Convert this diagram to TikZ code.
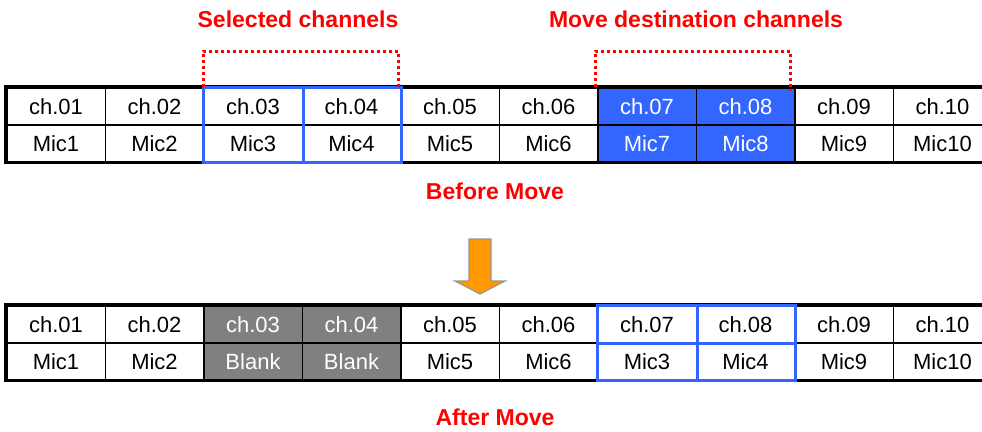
\documentclass[tikz,border=0pt]{standalone}
\usepackage{fontspec}
\setmainfont{Liberation Sans}
\definecolor{selblue}{RGB}{51,102,255}
\definecolor{redlbl}{RGB}{255,0,0}
\definecolor{grayfill}{RGB}{128,128,128}
\definecolor{arroworange}{RGB}{255,153,0}
\definecolor{arrowedge}{RGB}{150,150,150}
\begin{document}
\begin{tikzpicture}[x=1pt,y=-1pt,
 cell/.style={draw=black, line width=1.5pt, minimum width=98.5pt, minimum height=37pt, inner sep=0pt, font=\fontsize{22}{26}\selectfont, anchor=north west},
 bluecell/.style={cell, fill=selblue, text=white},
 graycell/.style={cell, fill=grayfill, text=white},
 lbl/.style={text=redlbl, font=\fontsize{23}{27}\selectfont\bfseries, inner sep=0pt},
 bracket/.style={draw=redlbl, line width=3pt, dash pattern=on 3pt off 3pt},
 border/.style={draw=black, line width=3.5pt},
 selbox/.style={draw=selblue, line width=3pt}]
\clip (0,0) rectangle (982,431);
\fill[white] (0,0) rectangle (982,431);
% ---- top table (before move)
\foreach \i/\c in {1/01,2/02,3/03,4/04,5/05,6/06,9/09,10/10}
  \node[cell] (tc\i) at ({6+98.5*(\i-1)},87) {ch.\c};
\foreach \i/\c in {7/07,8/08}
  \node[bluecell] (tc\i) at ({6+98.5*(\i-1)},87) {ch.\c};
\foreach \i in {1,2,3,4,5,6,9,10}
  \node[cell] (tm\i) at ({6+98.5*(\i-1)},124) {Mic\i};
\foreach \i in {7,8}
  \node[bluecell] (tm\i) at ({6+98.5*(\i-1)},124) {Mic\i};
\draw[border] (tc10.north east) -- (tc1.north west) -- (tm1.south west) -- (tm10.south east);
\draw[selbox] (tc3.north west) rectangle (tm4.south east);
\draw[selbox] (tc3.north east) -- (tm3.south east);
% brackets
\draw[bracket] (tc3.north west) -- ++(0,-36) -| ([xshift=-3pt]tc4.north east);
\draw[bracket] ([xshift=-2pt]tc7.north west) -- ++(0,-36) -| ([xshift=-5pt,yshift=-3pt]tc8.north east);
\node[lbl] (sel) at (298,19) {Selected channels};
\node[lbl] (dest) at (696,19) {Move destination channels};
\node[lbl] (before) at (495,191) {Before Move};
% ---- arrow
\filldraw[fill=arroworange, draw=arrowedge, line width=1.2pt, line join=miter]
  (469,239) -- (491,239) -- (491,281) -- (505,281) -- (480,294) -- (455,281) -- (469,281) -- cycle;
% ---- bottom table (after move)
\foreach \i/\c in {1/01,2/02,5/05,6/06,7/07,8/08,9/09,10/10}
  \node[cell] (bc\i) at ({6+98.5*(\i-1)},305) {ch.\c};
\foreach \i/\c in {3/03,4/04}
  \node[graycell] (bc\i) at ({6+98.5*(\i-1)},305) {ch.\c};
\foreach \i/\m in {1/Mic1,2/Mic2,5/Mic5,6/Mic6,7/Mic3,8/Mic4,9/Mic9,10/Mic10}
  \node[cell] (bm\i) at ({6+98.5*(\i-1)},342) {\m};
\foreach \i in {3,4}
  \node[graycell] (bm\i) at ({6+98.5*(\i-1)},342) {Blank};
\draw[border] (bc10.north east) -- (bc1.north west) -- (bm1.south west) -- (bm10.south east);
\draw[selbox] (bc7.north west) rectangle (bm8.south east);
\draw[selbox] (bc7.north east) -- (bm7.south east);
\draw[selbox] (bc7.south west) -- (bc8.south east);
\node[lbl] (after) at (495,417) {After Move};
\end{tikzpicture}
\end{document}
